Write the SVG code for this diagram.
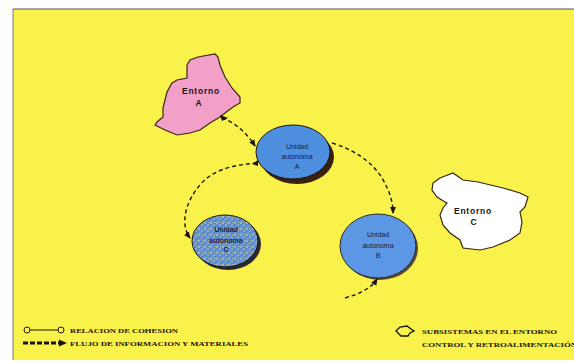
<svg xmlns="http://www.w3.org/2000/svg" width="574" height="362" viewBox="0 0 574 362">
<style>
.lbl{font-family:"Liberation Serif",serif;font-weight:bold;fill:#1a1410;text-anchor:middle}
.ent{font-family:"Liberation Sans",sans-serif;font-weight:bold;font-size:8.5px;fill:#1a1410;text-anchor:middle;letter-spacing:0.8px}
.uni{font-family:"Liberation Sans",sans-serif;font-size:7px;fill:#1a2040;text-anchor:middle}
.leg{font-family:"Liberation Serif",serif;font-weight:bold;font-size:6.5px;fill:#1a1410}
.flow{fill:none;stroke:#1a1410;stroke-width:1.4;stroke-dasharray:4 3}
.blob{stroke:#3a2618;stroke-width:1.2}
</style>
<defs>
<marker id="ah" markerWidth="8" markerHeight="8" refX="6" refY="4" orient="auto" markerUnits="userSpaceOnUse">
<path d="M0,1 L7,4 L0,7 Z" fill="#1a1410"/>
</marker>
<pattern id="speck" width="6" height="6" patternUnits="userSpaceOnUse">
<rect width="6" height="6" fill="#5a8ad8"/>
<circle cx="1" cy="1" r="0.8" fill="#f4ee60"/>
<circle cx="4" cy="3" r="0.7" fill="#f4ee60"/>
<circle cx="2" cy="5" r="0.6" fill="#f4ee60"/>
<circle cx="5" cy="0.5" r="0.5" fill="#f4ee60"/>
</pattern>
</defs>
<rect width="574" height="362" fill="#ffffff"/>
<rect x="13" y="9" width="561" height="351" fill="#f9f24a"/>
<line x1="13" y1="9" x2="574" y2="9" stroke="#555" stroke-width="1.2"/>
<line x1="13" y1="9" x2="13" y2="360" stroke="#777" stroke-width="1"/>

<g id="entorno-a">
<path class="blob" fill="#f2a0c8" d="M187,65 L190,60 L198,57 L215,54 L218,57 L220,65 L225,77 L232,88 L240,97 L240,103 L233,107 L225,113 L220,117 L210,123 L200,130 L190,133 L177,135 L165,130 L155,125 L157,122 L163,117 L163,108 L167,92 L172,83 L177,80 L187,78 Z"/>
<text class="ent" x="201" y="94">Entorno</text>
<text class="ent" x="199" y="106">A</text>
</g>

<g id="entorno-c">
<path class="blob" fill="#ffffff" d="M433,183 L440,178 L453,173 L463,180 L478,182 L503,188 L520,193 L528,197 L525,207 L520,212 L522,222 L520,233 L510,240 L493,247 L480,250 L463,248 L460,240 L450,233 L443,225 L440,215 L443,208 L447,203 L445,202 L437,197 L432,190 Z"/>
<text class="ent" x="473" y="214">Entorno</text>
<text class="ent" x="474" y="225">C</text>
</g>

<g id="unidad-a">
<ellipse cx="297" cy="157" rx="37" ry="27" fill="#3a2010"/>
<ellipse cx="293" cy="152" rx="37" ry="27" fill="#4f8fe0" stroke="#1a1410" stroke-width="1"/>
<text class="uni" x="297" y="149">Unidad</text>
<text class="uni" x="297" y="159">autonoma</text>
<text class="uni" x="297" y="169">A</text>
</g>

<g id="unidad-c">
<ellipse cx="228" cy="244" rx="33" ry="26" fill="#2a2a30"/>
<ellipse cx="225" cy="241" rx="33" ry="26" fill="url(#speck)" stroke="#1a1410" stroke-width="1"/>
<text class="uni" x="226" y="232" font-weight="bold">Unidad</text>
<text class="uni" x="226" y="243" font-weight="bold">autonoma</text>
<text class="uni" x="226" y="252" font-weight="bold">C</text>
</g>

<g id="unidad-b">
<ellipse cx="380" cy="248" rx="38" ry="32" fill="#5a4a30"/>
<ellipse cx="378" cy="246" rx="38" ry="32" fill="#5b97e4" stroke="#2a2a2a" stroke-width="1"/>
<text class="uni" x="378" y="237" font-family="Liberation Serif">Unidad</text>
<text class="uni" x="378" y="248" font-family="Liberation Serif">autonoma</text>
<text class="uni" x="378" y="258" font-family="Liberation Serif">B</text>
</g>

<g id="connectors">
<path class="flow" d="M222,118 C234,122 246,132 255,146" marker-end="url(#ah)"/>
<path d="M220,115 L228,118 L222,121 Z" fill="#1a1410"/>
<path class="flow" d="M257,163 C232,165 212,170 200,185 C185,202 180,225 190,238" marker-end="url(#ah)"/>
<path d="M258,160 L252,164 L258,166 Z" fill="#1a1410"/>
<path class="flow" d="M332,143 C355,150 372,162 382,178 C390,192 393,202 393,213" marker-end="url(#ah)"/>
<path class="flow" d="M345,298 C358,294 370,290 377,279" marker-end="url(#ah)"/>
</g>

<g id="legend">
<circle cx="27" cy="330" r="3" fill="#f9f24a" stroke="#1a1410" stroke-width="1"/>
<line x1="30" y1="330" x2="58" y2="330" stroke="#1a1410" stroke-width="1"/>
<circle cx="61" cy="330" r="3" fill="#f9f24a" stroke="#1a1410" stroke-width="1"/>
<text class="leg" x="70" y="332.5" textLength="108" lengthAdjust="spacingAndGlyphs">RELACION DE COHESION</text>
<line x1="23" y1="343" x2="60" y2="343" stroke="#1a1410" stroke-width="3" stroke-dasharray="5 2"/>
<path d="M59,339.5 L67,343 L59,346.5 Z" fill="#1a1410"/>
<text class="leg" x="70" y="345.5" textLength="178" lengthAdjust="spacingAndGlyphs">FLUJO DE INFORMACION Y MATERIALES</text>
<path d="M396,331 L400,327 L407,326 L411,329 L414,331 L410,333 L408,336 L401,336 Z" fill="#f9f24a" stroke="#1a1410" stroke-width="1.3"/>
<text class="leg" x="422" y="333.5" textLength="135" lengthAdjust="spacingAndGlyphs">SUBSISTEMAS EN EL ENTORNO</text>
<text class="leg" x="422" y="347" textLength="155" lengthAdjust="spacingAndGlyphs">CONTROL Y RETROALIMENTACIÓN</text>
</g>
</svg>
